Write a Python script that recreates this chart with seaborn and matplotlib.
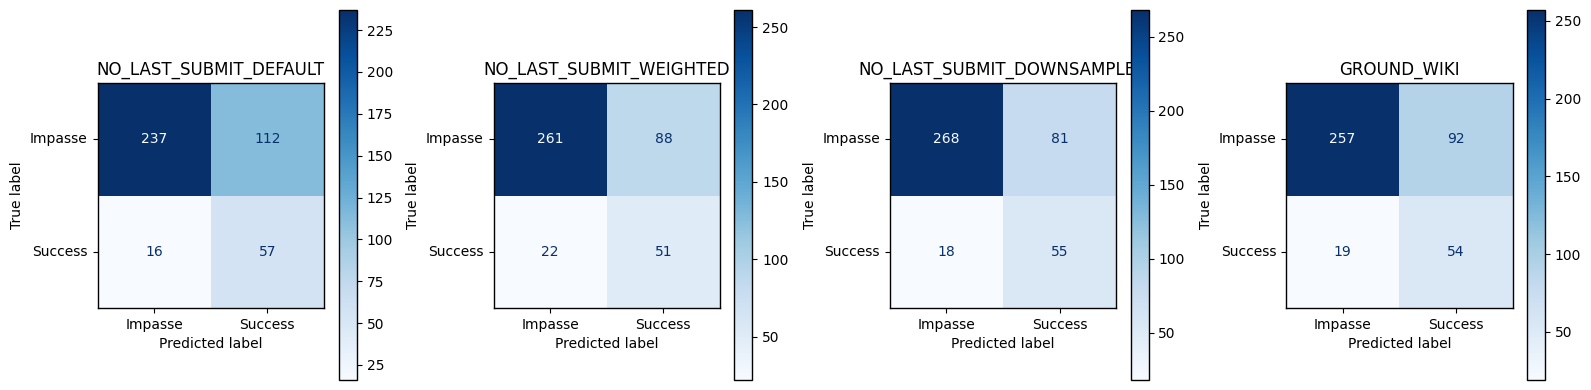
import numpy as np
import matplotlib
matplotlib.use("Agg")
import matplotlib.pyplot as plt
import seaborn as sns

titles = ["NO_LAST_SUBMIT_DEFAULT", "NO_LAST_SUBMIT_WEIGHTED",
          "NO_LAST_SUBMIT_DOWNSAMPLED", "GROUND_WIKI"]
class_labels = ["Impasse", "Success"]
cm_default = [[237, 112], [16, 57]]
cm_weighted = [[261, 88], [22, 51]]
cm_downsample = [[268, 81], [18, 55]]
cm_wiki = [[257, 92], [19, 54]]
matrices = [cm_default, cm_weighted, cm_downsample, cm_wiki]

W, H = 1591, 390
fig = plt.figure(figsize=(W / 100, H / 100), dpi=100)

ax_lefts = [97.5, 493.5, 889.8, 1286]
cb_lefts = [339, 734.3, 1130.5, 1527]
ax_w, ax_h = 226.5, 225
ax_bottom = 390 - 308
cb_w = 18
cb_bottom, cb_top = 10, 380

cmap = plt.get_cmap("Blues")
for i in range(4):
    ax = fig.add_axes([ax_lefts[i] / W, ax_bottom / H, ax_w / W, ax_h / H])
    cax = fig.add_axes([cb_lefts[i] / W, cb_bottom / H, cb_w / W, (cb_top - cb_bottom) / H])
    data = np.array(matrices[i])
    sns.heatmap(data, ax=ax, cbar_ax=cax, cmap="Blues", annot=True, fmt="d",
                annot_kws={"fontsize": 10}, square=False,
                xticklabels=class_labels, yticklabels=class_labels)
    vmin, vmax = data.min(), data.max()
    thresh = (vmin + vmax) / 2
    for t in ax.texts:
        v = int(t.get_text())
        t.set_color(cmap(1.0) if v < thresh else cmap(0.0))
    for sp in ax.spines.values():
        sp.set_visible(True)
        sp.set_linewidth(1.0)
        sp.set_color("black")
    ax.tick_params(length=3.5, width=0.8, labelsize=10)
    ax.set_yticklabels(class_labels, rotation=0)
    ax.set_xticklabels(class_labels, rotation=0)
    ax.set_xlabel("Predicted label", fontsize=10)
    ax.set_ylabel("True label", fontsize=10)
    ax.set_title(titles[i], fontsize=12)
    cb = ax.collections[0].colorbar
    cb.outline.set_linewidth(1.0)
    cb.outline.set_edgecolor("black")
    cax.tick_params(length=3.5, width=0.8, labelsize=10)

fig.savefig("out.png", dpi=100)
